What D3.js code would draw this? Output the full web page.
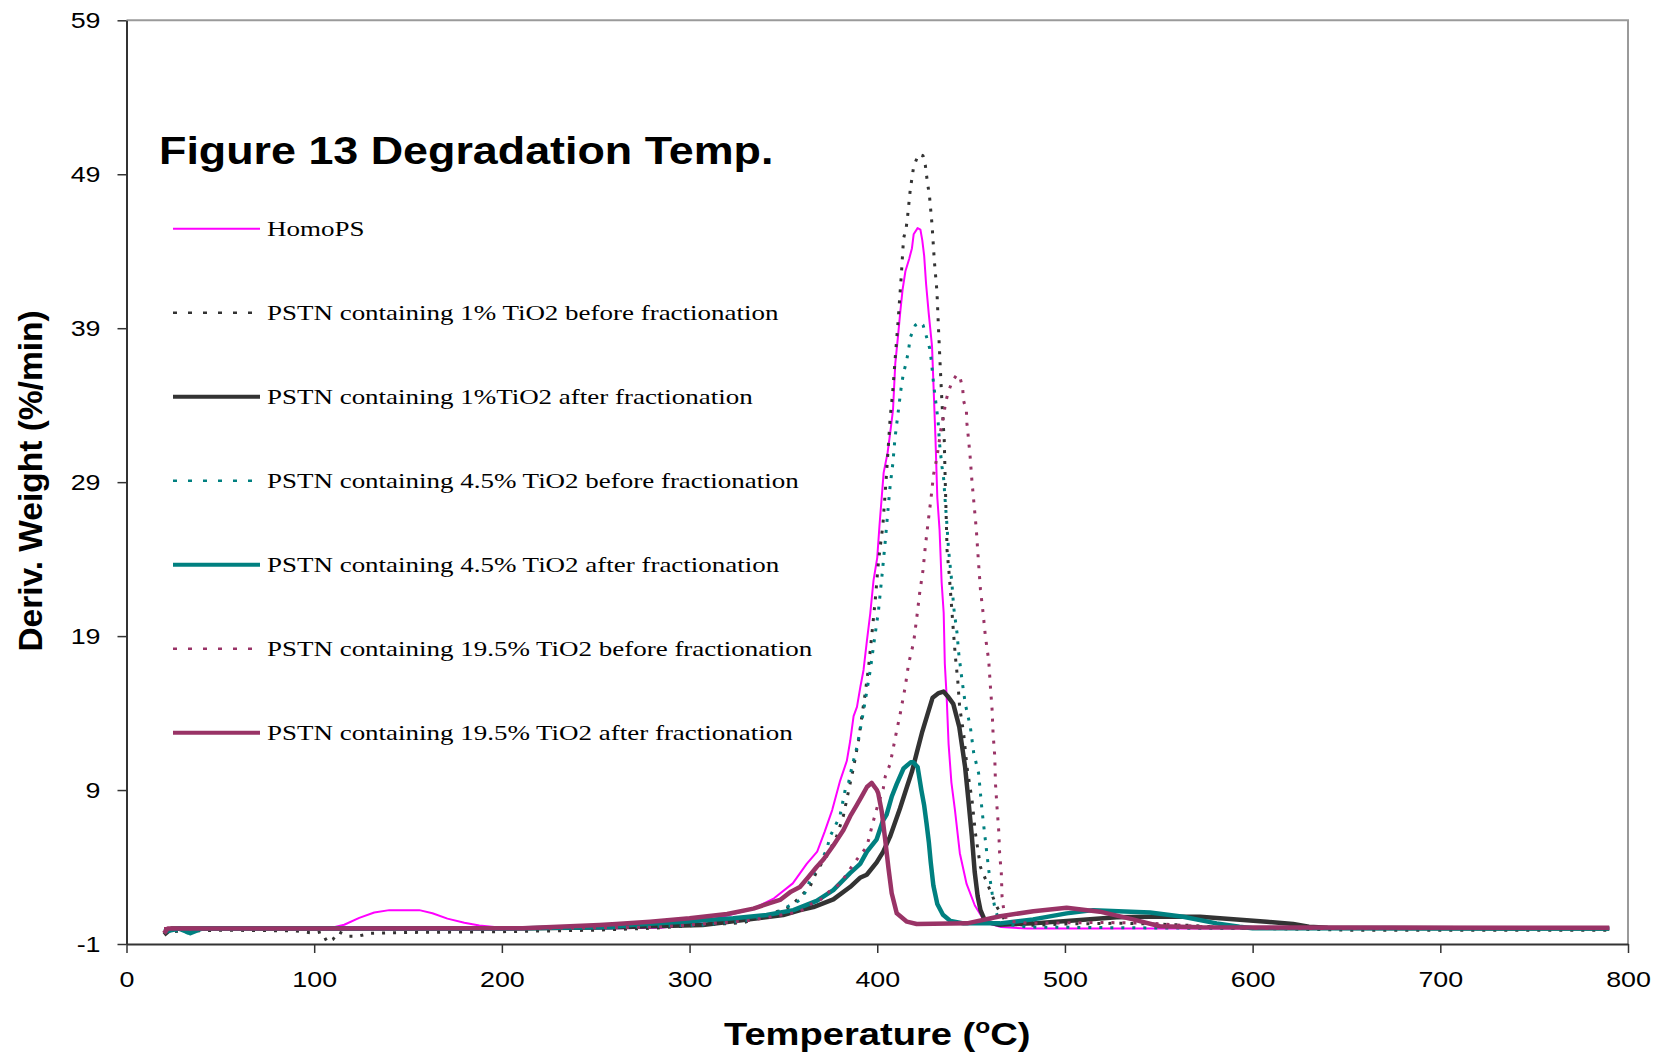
<!DOCTYPE html>
<html>
<head>
<meta charset="utf-8">
<script src="https://cdn.jsdelivr.net/npm/d3@7"></script>
<style>
  body { margin: 0; background: #fff; }
  svg { display: block; }
</style>
</head>
<body>
<div id="chart"></div>
<script>
// ---- data: [temperature C, deriv. weight %/min] ----
const xTicks = [0, 100, 200, 300, 400, 500, 600, 700, 800];
const yTicks = [-1, 9, 19, 29, 39, 49, 59];

const homoPS = [[20,0],[60,0],[100,0],[110,0.08],[116,0.25],[124,0.7],[132,1.05],[140,1.2],[156,1.2],[163,1.0],[171,0.65],[180,0.38],[188,0.2],[200,0.05],[250,0],[285,0.05],[300,0.3],[310,0.55],[320,0.85],[330,1.15],[336,1.42],[345,1.97],[355,2.94],[362.4,4.2],[368,5.0],[372,6.3],[376,7.7],[380.2,9.6],[383.8,10.9],[385.6,12.2],[387.4,13.8],[389.2,14.4],[391,15.7],[392.7,16.8],[394.5,18.7],[396.3,20.5],[398,22.6],[400,24.1],[401.2,26.2],[402.5,28.2],[403.4,29.6],[405.5,30.9],[407,32.3],[408.4,33.7],[409.6,36.7],[411,38.4],[412.3,40.1],[413.5,41.5],[415,42.7],[417,43.5],[418.5,44.2],[419.4,45.1],[421.5,45.5],[423,45.4],[424,44.7],[425,43.7],[426,41.9],[427.4,40],[429.2,37.8],[430,35.2],[431,31.9],[432,28],[433.2,25.9],[434.3,22.5],[435.4,20.5],[436,17.2],[437,15],[438,12],[439.5,9.5],[441.4,7.7],[444,4.9],[447.6,2.9],[452,1.5],[457.6,0.4],[466,0.1],[480,0],[600,0],[700,0],[790,0]];

const pstn1Before = [[20,-0.2],[50,-0.1],[90,-0.15],[100,-0.3],[104,-0.2],[107,-0.9],[110,-0.7],[113,-0.2],[118,-0.5],[123,-0.5],[130,-0.3],[150,-0.25],[200,-0.2],[250,-0.1],[283,0.04],[305.5,0.23],[328.6,0.38],[342,0.9],[353.5,1.42],[360,2.2],[364.1,2.7],[368,3.8],[373,4.7],[378.4,6.0],[381.9,7.3],[385.5,9.4],[387.4,10.5],[390,12.2],[391.8,13.8],[393.6,15.3],[395.4,17],[397.2,19.2],[398.9,21.3],[400.7,23.9],[403,26.2],[404.8,29.3],[406.9,33.2],[408.2,34.8],[409.6,37.1],[411,39.3],[412.8,42.4],[414,44.8],[415.5,45.6],[416.2,46.3],[417.6,48],[419.4,49.5],[422,50.3],[424.4,50.2],[425.6,49.6],[426.5,48.7],[427.9,47.5],[429.2,45.7],[430.4,43.4],[431.8,41.4],[432.7,38.8],[433.6,36.4],[434.5,34.1],[435.7,31.7],[436.3,28.7],[437.2,24.6],[438.4,22.9],[439.5,21.1],[440.4,19.6],[441.6,17.7],[442.9,16.1],[443.9,14.4],[446,12.7],[447.8,10.5],[450.5,8.35],[452.3,6.2],[455,4.0],[459.4,2.7],[463.8,1.4],[469,0.34],[480,0.2],[500,0.3],[530,0.35],[560,0.25],[590,0.05],[650,-0.1],[790,-0.1]];

const pstn1After = [[20,-0.4],[24,0],[100,0],[200,0],[259,0.08],[307,0.23],[332,0.6],[349.9,0.88],[359,1.2],[366,1.4],[376.6,1.9],[385.5,2.7],[390.8,3.3],[394.4,3.5],[399.7,4.3],[403.2,5.0],[406.8,5.97],[412.1,7.8],[415.8,9.2],[418.5,10.2],[421,11.4],[424,12.8],[426.5,13.8],[429.5,15],[432.7,15.3],[435.3,15.4],[437.5,15.1],[440.5,14.6],[443.7,13.1],[446.8,10.5],[448.6,8.3],[450.4,6.0],[451.9,3.7],[453.5,2.1],[455,1.2],[457.6,0.45],[465,0.25],[483,0.34],[501,0.5],[527.5,0.73],[545,0.77],[572,0.77],[589.7,0.6],[607.5,0.45],[621.6,0.3],[630,0.12],[640,0.05],[790,0]];

const pstn45Before = [[20,0],[34,-0.3],[40,0],[100,0],[200,0],[259,0.08],[307,0.23],[330,0.5],[345,0.95],[359,1.86],[362.4,2.5],[364.3,3.2],[369.5,4.3],[373,5.1],[374.9,6.0],[380.1,7.3],[382.9,9.0],[384.6,9.4],[386.5,10.5],[389.2,11.8],[391.8,13.5],[393.6,14.8],[396.3,16.8],[398.4,18.7],[400.7,20.7],[402.5,22.9],[404.3,25.2],[406,27.6],[406.9,28.8],[408.3,30.2],[409.4,31.8],[410.5,32.9],[411.7,34.1],[412.8,35.2],[414,36.1],[415.5,36.8],[416.7,37.6],[417.6,38.4],[420.3,39.2],[422.6,39.4],[424.4,39.2],[426.1,38.5],[427.9,37.7],[428.8,36.9],[430,35.4],[431.5,33.9],[432.4,33],[433.2,31.5],[434.5,30],[435.4,29.2],[436.3,27.6],[437.2,26.1],[438,24.6],[439.8,22.4],[440.7,20.9],[442.5,19.2],[443.4,17.9],[445.2,16.1],[446.9,14.6],[449.6,13.1],[451.4,11.4],[454,10.1],[455.8,7.7],[457.6,5.75],[459.4,3.8],[461.2,2.3],[462.9,1.2],[465.6,0.34],[480,0.1],[600,0],[790,0]];

const pstn45After = [[20,-0.2],[28,0],[34,-0.3],[40,0],[200,0],[259,0.1],[270,0.25],[296.6,0.45],[323.3,0.67],[341,0.88],[355.3,1.2],[367.7,1.8],[376.6,2.5],[385.5,3.6],[390.9,4.2],[394.5,5.0],[399.7,5.8],[403,7.0],[405,7.4],[407.8,8.6],[410.4,9.4],[414,10.4],[417.8,10.8],[419.2,10.8],[421.5,10.5],[423.5,9.0],[425,8.0],[426.3,6.8],[427.5,5.6],[428.5,4.3],[429.9,2.8],[432,1.6],[435,0.9],[439,0.5],[446,0.34],[465.4,0.34],[483,0.6],[500.9,0.99],[515,1.2],[545.3,1.05],[563,0.77],[580.8,0.34],[593,0.12],[600,0.02],[790,0]];

const pstn195Before = [[20,0],[100,0],[200,0],[283,0.1],[307,0.3],[330,0.5],[345,0.8],[358.8,1.1],[366,1.7],[371.2,1.97],[373.2,2.3],[380.1,2.9],[387.4,4.2],[391,4.8],[394.4,5.3],[397.5,6.8],[400,7.9],[403.2,9.1],[404.3,9.9],[406.9,10.7],[409.6,12.4],[412.3,14],[414.9,15.7],[416.7,17.2],[419.4,18.6],[421.1,20.25],[422.6,21.8],[424.4,23.3],[425.6,24.8],[427.2,26.5],[428.6,27.9],[430,29.5],[431.8,30.6],[434,32.5],[435.4,33.3],[436.3,34.1],[437.7,34.8],[439.8,35.5],[442.5,36],[444.3,35.7],[445.5,35.1],[446,34.3],[447.5,33.6],[447.8,32.8],[448.7,31.7],[449.6,30.5],[450,29.8],[450.5,29],[451.4,27.8],[452.8,25.9],[454,23.7],[455,22],[456.4,20.5],[457.6,19],[459.4,17.4],[460.3,15.7],[461.2,14.2],[461.7,12.7],[462.6,11.2],[463,9.4],[463.8,7.9],[464.7,6.4],[465.2,4.9],[466.1,3.6],[466.5,2.07],[467.4,1.2],[469,0.5],[480,0.35],[520,0.4],[545,0.35],[570,0.15],[600,0],[790,0]];

const pstn195After = [[20,-0.3],[22,0],[100,0],[211,0.02],[252,0.23],[261,0.3],[279,0.45],[300,0.67],[320,0.95],[334,1.3],[342.3,1.64],[348.2,1.86],[354,2.4],[358.8,2.7],[363,3.3],[367.7,4.0],[371.4,4.5],[376.6,5.4],[382,6.4],[385.6,7.3],[389,8.0],[391.8,8.6],[394.5,9.2],[397,9.47],[399.8,9.0],[400.5,8.8],[402.4,7.6],[404.2,5.8],[406,3.9],[407.7,2.3],[410.4,0.99],[415.8,0.45],[421,0.3],[447.8,0.34],[465.5,0.8],[483.2,1.13],[500.9,1.35],[518.6,1.1],[536.2,0.6],[550.6,0.15],[572,0.08],[790,0.05]];

const seriesNames = [
    "HomoPS",
    "PSTN containing 1% TiO2 before fractionation",
    "PSTN containing 1%TiO2 after fractionation",
    "PSTN containing 4.5% TiO2 before fractionation",
    "PSTN containing 4.5% TiO2 after fractionation",
    "PSTN containing 19.5% TiO2 before fractionation",
    "PSTN containing 19.5% TiO2 after fractionation"
];

// ---- drawing ----
const W = 1663, H = 1055;
const sx = 1.22; // the original figure is stretched horizontally

const series = [
    { data: homoPS,        color: "#ff00ff", width: 2,   dash: null },
    { data: pstn1Before,   color: "#333333", width: 3,   dash: "3,8" },
    { data: pstn1After,    color: "#333333", width: 4.5, dash: null },
    { data: pstn45Before,  color: "#008080", width: 3,   dash: "3,8" },
    { data: pstn45After,   color: "#008080", width: 4.5, dash: null },
    { data: pstn195Before, color: "#993366", width: 3,   dash: "3,8" },
    { data: pstn195After,  color: "#993366", width: 4.5, dash: null }
];

const svg = d3.select("#chart")
    .append("svg")
    .attr("width", W)
    .attr("height", H);

const x = d3.scaleLinear().domain([0, 800]).range([126.5, 1628]);
const y = d3.scaleLinear().domain([-1, 59]).range([944, 20.3]);

// frame (top and right)
svg.append("path")
    .attr("d", `M${x(0)},${y(59)}H${x(800)}V${y(-1)}`)
    .attr("fill", "none")
    .attr("stroke", "#9a9a9a")
    .attr("stroke-width", 2);

// y axis
const yAxis = svg.append("g")
    .attr("transform", `translate(${x(0)},0)`)
    .call(d3.axisLeft(y).tickValues(yTicks).tickFormat(d => String(d))
        .tickSize(9).tickSizeOuter(0).tickPadding(17));
// x axis
const xAxis = svg.append("g")
    .attr("transform", `translate(0,${y(-1)})`)
    .call(d3.axisBottom(x).tickValues(xTicks).tickFormat(d => String(d))
        .tickSize(9).tickSizeOuter(0).tickPadding(18));

[yAxis, xAxis].forEach(g => {
    g.select(".domain").attr("stroke", "#333").attr("stroke-width", 2);
    g.selectAll(".tick line").attr("stroke", "#333").attr("stroke-width", 1.5);
    g.selectAll(".tick text")
        .attr("fill", "#000")
        .style("font-family", "'Liberation Sans', Arial, sans-serif")
        .style("font-size", "22px");
});
yAxis.selectAll(".tick text")
    .attr("x", -26 / sx)
    .attr("transform", `scale(${sx},1)`);
xAxis.selectAll(".tick text")
    .attr("transform", `scale(${sx},1)`);

// curves
const line = d3.line()
    .x(d => x(d[0]))
    .y(d => y(d[1]));

series.forEach(s => {
    svg.append("path")
        .datum(s.data)
        .attr("fill", "none")
        .attr("stroke", s.color)
        .attr("stroke-width", s.width)
        .attr("stroke-dasharray", s.dash)
        .attr("stroke-linejoin", "round")
        .attr("d", line);
});

// title
svg.append("text")
    .attr("transform", `translate(159,164) scale(1.18,1)`)
    .style("font-family", "'Liberation Sans', Arial, sans-serif")
    .style("font-weight", "bold")
    .style("font-size", "38px")
    .text("Figure 13 Degradation Temp.");

// legend
const legend = svg.append("g");
series.forEach((s, i) => {
    const ly = 228.8 + i * 84;
    legend.append("line")
        .attr("x1", 173).attr("x2", 260)
        .attr("y1", ly).attr("y2", ly)
        .attr("stroke", s.color)
        .attr("stroke-width", s.dash ? 2.5 : (s.width > 3 ? 4 : 2))
        .attr("stroke-dasharray", s.dash ? "4,11" : null);
    legend.append("text")
        .attr("transform", `translate(267,${ly + 7}) scale(1.255,1)`)
        .style("font-family", "'Liberation Serif', 'Times New Roman', serif")
        .style("font-size", "21.5px")
        .text(seriesNames[i]);
});

// axis titles
const xLabel = svg.append("text")
    .attr("transform", `translate(${(x(0) + x(800)) / 2},1045) scale(1.23,1)`)
    .attr("text-anchor", "middle")
    .style("font-family", "'Liberation Sans', Arial, sans-serif")
    .style("font-weight", "bold")
    .style("font-size", "31px");
xLabel.append("tspan").text("Temperature (");
xLabel.append("tspan").attr("dy", -12).style("font-size", "20px").text("o");
xLabel.append("tspan").attr("dy", 12).text("C)");

svg.append("text")
    .attr("transform", `translate(42,481) rotate(-90)`)
    .attr("text-anchor", "middle")
    .style("font-family", "'Liberation Sans', Arial, sans-serif")
    .style("font-weight", "bold")
    .style("font-size", "33.5px")
    .text("Deriv. Weight (%/min)");
</script>
</body>
</html>
